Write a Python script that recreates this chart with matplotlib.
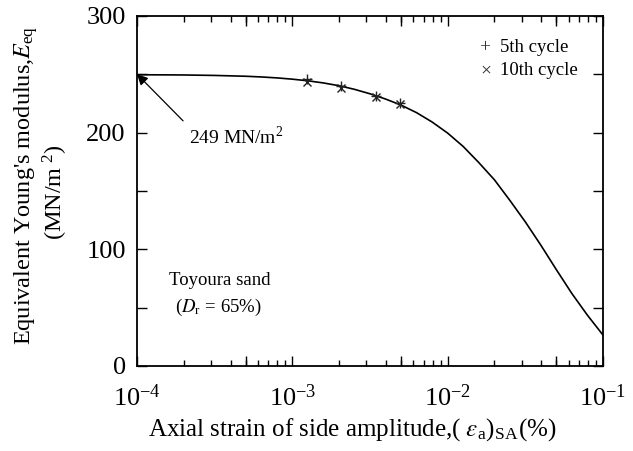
import numpy as np
import matplotlib
matplotlib.use("Agg")
import matplotlib.pyplot as plt

plt.rcParams['font.family'] = ['Liberation Serif', 'DejaVu Serif']
plt.rcParams['mathtext.fontset'] = 'stix'

# fitted curve
curve_strain = [1e-4, 2.0e-4, 3.16e-4, 5.01e-4, 6.31e-4, 7.94e-4,
                1.0e-3, 1.26e-3, 1.58e-3, 2.0e-3, 2.51e-3, 3.16e-3, 3.98e-3, 5.01e-3, 6.31e-3, 7.94e-3,
                1.0e-2, 1.26e-2, 1.58e-2, 2.0e-2, 2.51e-2, 3.16e-2, 3.98e-2, 5.01e-2, 6.31e-2, 7.94e-2,
                1e-1]
curve_E = [249.5, 249.3, 248.9, 248.2, 247.6, 246.8,
           245.7, 244.3, 242.5, 240.1, 237.0, 233.2, 228.7, 223.5, 217.0, 209.0,
           199.5, 188.0, 174.5, 159.5, 142.0, 123.5, 103.5, 82.5, 62.0, 43.5,
           26.5]

# measured points
pts_strain = [1.25e-3, 2.05e-3, 3.45e-3, 4.95e-3]
E_5th = [245.5, 239.5, 231.5, 225.0]
E_10th = [243.0, 238.0, 230.5, 224.5]

fig = plt.figure(figsize=(6.33, 4.51), dpi=100)
ax = fig.add_axes([0.2164, 0.1885, 0.7362, 0.7765])

ax.plot(curve_strain, curve_E, color='black', lw=1.2)
ax.plot(pts_strain, E_5th, ls='none', marker='+', ms=7, mew=1.0, color='#222222')
ax.plot(pts_strain, E_10th, ls='none', marker='x', ms=5.5, mew=1.0, color='#222222')

ax.set_xscale('log')
ax.set_xlim(1e-4, 1e-1)
ax.set_ylim(0, 300)
ax.set_yticks([0, 100, 200, 300])
ax.set_yticks([50, 150, 250], minor=True)
ax.set_xticks([1e-4, 1e-3, 1e-2, 1e-1])
ax.set_xticklabels(['$\\mathregular{10^{-4}}$', '$\\mathregular{10^{-3}}$',
                    '$\\mathregular{10^{-2}}$', '$\\mathregular{10^{-1}}$'])
ax.tick_params(which='both', direction='in', top=True, right=True, width=1.0)
ax.tick_params(which='major', length=7, labelsize=19)
ax.tick_params(axis='x', which='major', pad=13)
ax.tick_params(axis='y', which='major', pad=8)
ax.tick_params(which='minor', length=4)
ax.tick_params(axis='y', which='minor', length=7)
for s in ax.spines.values():
    s.set_linewidth(1.3)

# longer ticks at 5 x 10^n
for loc in ['bottom', 'top']:
    sec = ax.secondary_xaxis(loc)
    sec.set_xticks([5e-4, 5e-3, 5e-2])
    sec.set_xticks([], minor=True)
    sec.tick_params(direction='in', length=7, width=1.0, labelbottom=False, labeltop=False)
    sec.spines[loc].set_visible(False)

fig.text(0.556, 0.047,
         'Axial strain of side amplitude,( $\\varepsilon_{\\mathregular{a}}$)$_{\\mathregular{SA}}$(%)',
         ha='center', va='center', fontsize=18)
fig.text(0.042, 0.59, "Equivalent Young's modulus,$E_{\\mathregular{eq}}$",
         rotation=90, ha='center', va='center', fontsize=17.5)
fig.text(0.088, 0.575, '(MN/m$^{\\mathregular{\\ 2}}$)', rotation=90,
         ha='center', va='center', fontsize=17.5)

# legend
fig.text(0.766, 0.895, '+', fontsize=14, ha='center', va='center', color='#333333')
fig.text(0.79, 0.895, '5th cycle', fontsize=13.5, ha='left', va='center')
fig.text(0.768, 0.843, '\u00d7', fontsize=14, ha='center', va='center', color='#333333')
fig.text(0.79, 0.843, '10th cycle', fontsize=13.5, ha='left', va='center')

ax.text(4.35e-4, 196, '249 MN/m$^{\\mathregular{2}}$', fontsize=14, ha='center', va='center')
ax.annotate('', xy=(1.0e-4, 250), xytext=(1.98e-4, 210),
            arrowprops=dict(arrowstyle='-|>', color='black', lw=0.9,
                            mutation_scale=16, shrinkA=0, shrinkB=0))

ax.text(3.43e-4, 73.5, 'Toyoura sand', fontsize=13.5, ha='center', va='center')
ax.text(3.35e-4, 50.5, '($D_{\\mathregular{r}}$ = 65%)', fontsize=13.5, ha='center', va='center')

fig.savefig('out.png', dpi=100)
